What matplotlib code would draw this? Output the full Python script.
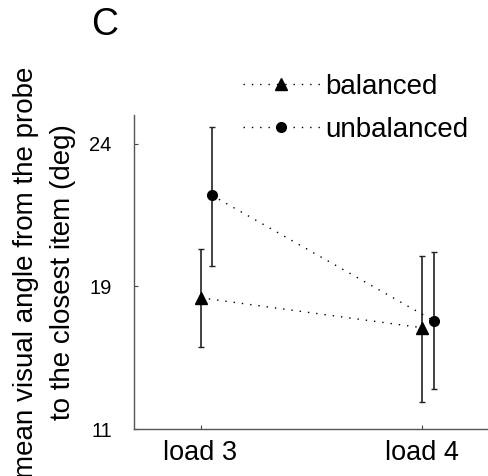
import matplotlib
matplotlib.use("Agg")
import matplotlib.pyplot as plt

plt.rcParams['font.family'] = ['Liberation Sans', 'DejaVu Sans']

categories = ["load 3", "load 4"]
balanced_mean = [18.6, 17.55]
balanced_low = [16.87, 14.95]
balanced_high = [20.33, 20.05]
unbalanced_mean = [22.2, 17.8]
unbalanced_low = [19.73, 15.4]
unbalanced_high = [24.6, 20.2]
ytick_pos = [14, 19, 24]
ytick_labels = ["11", "19", "24"]

fig = plt.figure(figsize=(4.89, 4.76), dpi=100)
ax = fig.add_axes([0.274, 0.0987, 0.726, 0.659])

x = [1, 2]
off = 0.05
xu = [v + off for v in x]

err_b = [[m - l for m, l in zip(balanced_mean, balanced_low)],
         [h - m for m, h in zip(balanced_mean, balanced_high)]]
err_u = [[m - l for m, l in zip(unbalanced_mean, unbalanced_low)],
         [h - m for m, h in zip(unbalanced_mean, unbalanced_high)]]

ax.errorbar(x, balanced_mean, yerr=err_b, fmt='none', ecolor='#222222',
            elinewidth=1.2, capsize=2.5, capthick=1.0)
ax.errorbar(xu, unbalanced_mean, yerr=err_u, fmt='none', ecolor='#222222',
            elinewidth=1.2, capsize=2.5, capthick=1.0)
ax.plot(x, balanced_mean, color='black', linestyle=(0, (1, 5)), lw=1.0,
        marker='^', markersize=8, label='balanced')
ax.plot(xu, unbalanced_mean, color='black', linestyle=(0, (1, 5)), lw=1.0,
        marker='o', markersize=7, label='unbalanced')

ax.set_xlim(0.7, 2.3)
ax.set_ylim(14, 25)
ax.set_xticks(x)
ax.set_xticklabels(categories, fontsize=19.5)
ax.set_yticks(ytick_pos)
ax.set_yticklabels(ytick_labels, fontsize=14.5)
ax.tick_params(direction='in', length=3, width=0.8, color='#444444')
ax.tick_params(axis='x', pad=8)
ax.tick_params(axis='y', pad=16)
for s in ['top', 'right']:
    ax.spines[s].set_visible(False)
for s in ['left', 'bottom']:
    ax.spines[s].set_color('#555555')
    ax.spines[s].set_linewidth(1.0)

fig.text(0.09, 0.428, "mean visual angle from the probe\nto the closest item (deg)",
         rotation=90, ha='center', va='center', fontsize=20, linespacing=1.55,
         multialignment='center')
fig.text(91 / 489, 1 - 35 / 476, "C", fontsize=27, ha='left', va='baseline')

leg = fig.legend(loc='upper left', bbox_to_anchor=(243 / 489, 1 - 74 / 476),
                 frameon=False, fontsize=20, handlelength=2.77,
                 handletextpad=0.2, labelspacing=0.6, borderpad=0,
                 borderaxespad=0)

fig.savefig("out.png", dpi=100)
